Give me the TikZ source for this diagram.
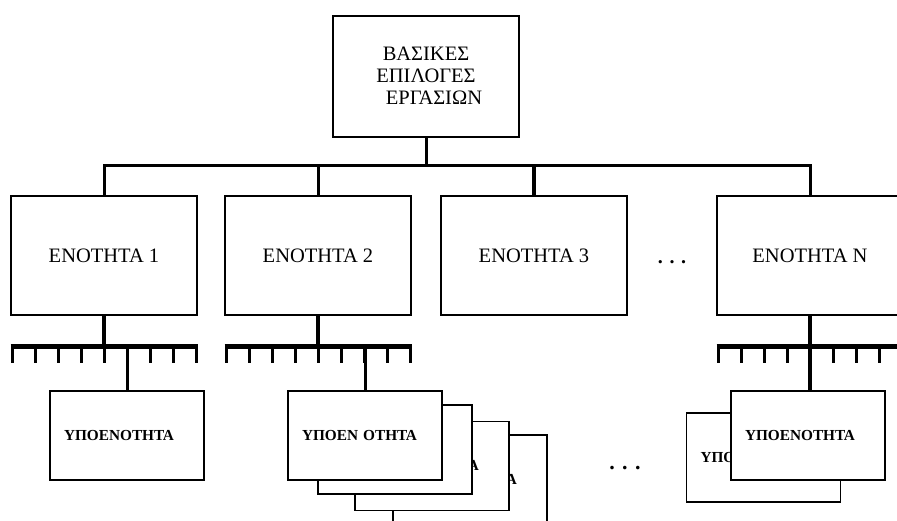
\documentclass[tikz,border=0pt]{standalone}
\usepackage{fontspec}
\setmainfont{Liberation Serif}
\usetikzlibrary{calc}
\begin{document}
\begin{tikzpicture}[x=1pt,y=-1pt,
  bigbox/.style={draw, line width=2pt, fill=white, minimum width=186pt, minimum height=119pt, inner sep=0pt, font=\fontsize{20.5}{22}\selectfont},
  subbox/.style={draw, line width=1.8pt, fill=white, text width=126pt, inner xsep=14pt, inner ysep=0pt, minimum height=89pt, align=left, font=\bfseries\fontsize{15.3}{18}\selectfont},
  busline/.style={line width=3pt},
  combbar/.style={line width=5pt},
  tickline/.style={line width=3pt},
  stubline/.style={line width=3.4pt}]
\useasboundingbox (0,0) rectangle (897,520);

% top box
\node[bigbox, minimum height=121pt, align=center, font=\fontsize{20.5}{22}\selectfont] (top) at (426,76)
  {ΒΑΣΙΚΕΣ\\ΕΠΙΛΟΓΕΣ\\\hspace*{16pt}ΕΡΓΑΣΙΩΝ};

% section boxes
\node[bigbox] (e1) at (104,255.5) {ΕΝΟΤΗΤΑ 1};
\node[bigbox] (e2) at (318,255.5) {ΕΝΟΤΗΤΑ 2};
\node[bigbox] (e3) at (534,255.5) {ΕΝΟΤΗΤΑ 3};
\node[bigbox] (eN) at (810,255.5) {ΕΝΟΤΗΤΑ Ν};
\node[font=\bfseries\fontsize{20}{22}\selectfont] (d1) at (672,262) {. . .};

% bus
\coordinate (busy) at (0,165);
\draw[busline] (top.south) -- (top.south |- busy);
\draw[busline] (e1.north) -- (e1.north |- busy) -- (eN.north |- busy) -- (eN.north);
\draw[busline] (e2.north) -- (e2.north |- busy);
\draw[line width=4pt] (e3.north) -- (e3.north |- busy);

% combs
\coordinate (c1) at (12,346);
\coordinate (c2) at (226,346);
\coordinate (cN) at (718,346);
\foreach \c in {c1,c2,cN}{
  \draw[combbar] ($(\c)+(-1.5,0)$) -- ($(\c)+(185.5,0)$);
  \foreach \i in {0,...,8}
    \draw[tickline] ($(\c)+(23*\i,0)$) -- ++(0,17);
}
\draw[stubline] (e1.south) -- (e1.south |- c1);
\draw[stubline] (e2.south) -- (e2.south |- c2);
\draw[stubline] (eN.south) -- (eN.south |- cN);

% sub-sections of section 1
\node[subbox] (s1) at (127,435.5) {ΥΠΟΕΝΟΤΗΤΑ};
\draw[tickline] (s1.north |- c1) -- (s1.north);

% sub-sections of section 2 (stack)
\node[subbox] (b4) at (470,479.5) {ΥΠΟΕΝΟΤΗΤΑ};
\node[subbox] (b3) at (432,466) {ΥΠΟΕΝΟΤΗΤΑ};
\node[subbox] (b2) at (395,449.5) {ΥΠΟΕΝΟΤΗΤΑ};
\node[subbox] (s2) at (365,435.5) {ΥΠΟΕΝ ΟΤΗΤΑ};
\draw[tickline] (s2.north |- c2) -- (s2.north);

\node[font=\bfseries\fontsize{22}{22}\selectfont] (d2) at (625,468) {. . .};

% sub-sections of section N (stack)
\node[subbox] (bN) at (763.5,457.5) {ΥΠΟΕΝΟΤΗΤΑ};
\node[subbox] (sN) at (808,435.5) {ΥΠΟΕΝΟΤΗΤΑ};
\draw[stubline] (cN -| eN.south) -- (sN.north -| eN.south);
\end{tikzpicture}
\end{document}
